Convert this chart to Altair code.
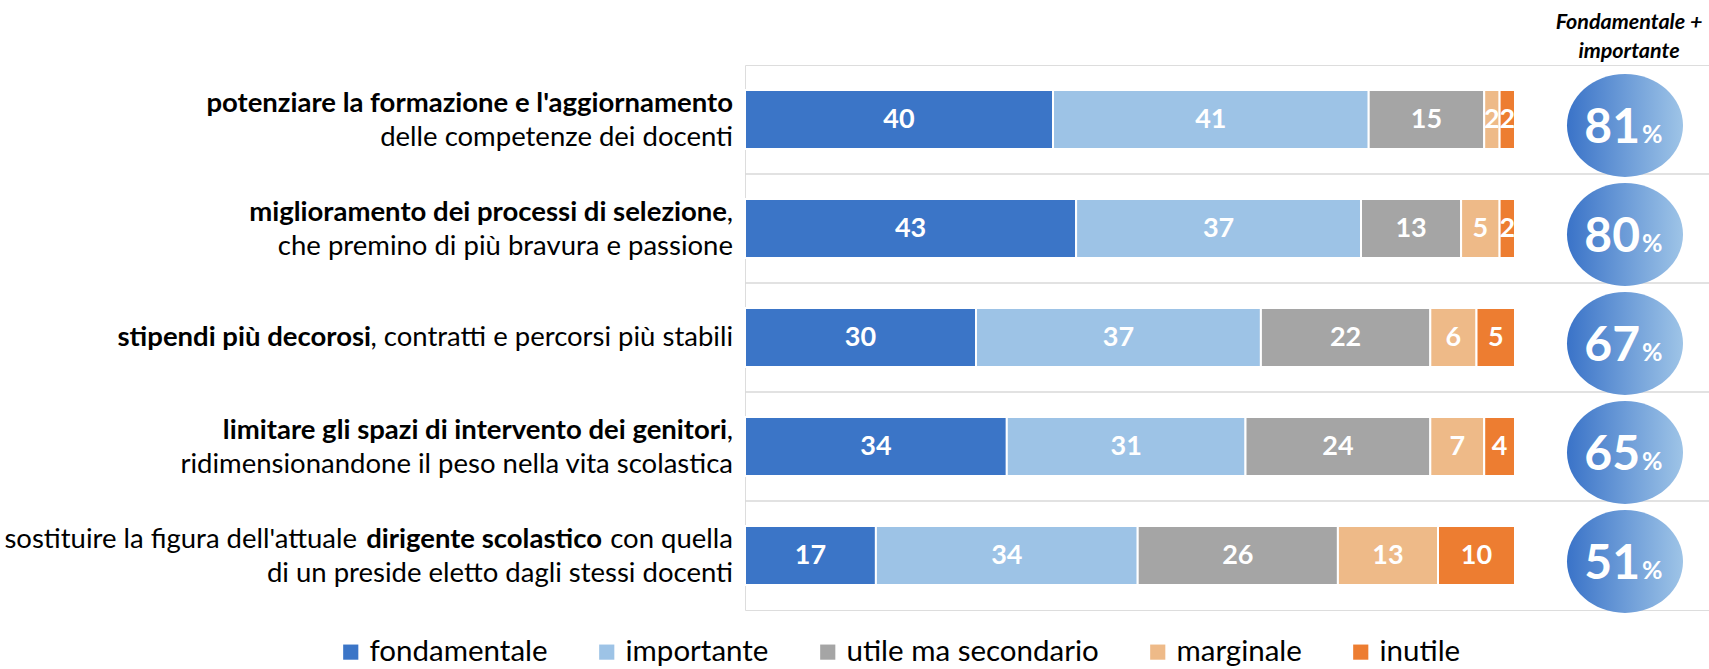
import altair as alt
import pandas as pd

# ---------------- data ----------------
series = ["fondamentale", "importante", "utile ma secondario", "marginale", "inutile"]
colors = ["#3B75C7", "#9DC3E6", "#A5A5A5", "#EEBA88", "#ED7D31"]
items = ["r1", "r2", "r3", "r4", "r5"]
fondamentale = [40, 43, 30, 34, 17]
importante = [41, 37, 37, 31, 34]
utile = [15, 13, 22, 24, 26]
marginale = [2, 5, 6, 7, 13]
inutile = [2, 2, 5, 4, 10]

# label text segments: (item, line, text, bold)
label_segments = [
    ("r1", "top", "potenziare la formazione e l'aggiornamento", True),
    ("r1", "bottom", "delle competenze dei docenti", False),
    ("r2", "top", "miglioramento dei processi di selezione", True),
    ("r2", "top", ",", False),
    ("r2", "bottom", "che premino di più bravura e passione", False),
    ("r3", "mid", "stipendi più decorosi", True),
    ("r3", "mid", ", contratti e percorsi più stabili", False),
    ("r4", "top", "limitare gli spazi di intervento dei genitori", True),
    ("r4", "top", ",", False),
    ("r4", "bottom", "ridimensionandone il peso nella vita scolastica", False),
    ("r5", "top", "sostituire la figura dell'attuale", False),
    ("r5", "top", "dirigente scolastico", True),
    ("r5", "top", "con quella", False),
    ("r5", "bottom", "di un preside eletto dagli stessi docenti", False),
]
title_lines = ["Fondamentale +", "importante"]

# ---------------- layout (pixels) ----------------
FONT = "Lato"
LABEL_SIZE = 27.5
PLOT_W, PLOT_H = 964, 545
BAR_SPAN = 770          # pixels covered by 0..100
LABEL_RIGHT = -12       # right edge of the row labels
# right-edge offsets of the mixed-weight segments (estimated text widths)
seg_right = {
    ("r2", "miglioramento dei processi di selezione"): -6,
    ("r4", "limitare gli spazi di intervento dei genitori"): -6,
    ("r3", "stipendi più decorosi"): -362,
    ("r5", "dirigente scolastico"): -131,
    ("r5", "sostituire la figura dell'attuale"): -376,
}
line_dy = {"top": -16, "bottom": 18, "mid": 0}
CIRCLE_X = 880

# ---------------- tables ----------------
vals = [fondamentale, importante, utile, marginale, inutile]
rows = []
for i, it in enumerate(items):
    start = 0
    for s, name in enumerate(series):
        v = vals[s][i]
        rows.append({"item": it, "series": name, "order": s, "value": v,
                     "start": start, "end": start + v, "mid": start + v / 2})
        start += v
bars = pd.DataFrame(rows)

tot = pd.DataFrame({"item": items,
                    "tot": [a + b for a, b in zip(fondamentale, importante)]})

lab = pd.DataFrame(label_segments, columns=["item", "line", "text", "bold"])
lab["px"] = [LABEL_RIGHT + seg_right.get((r.item, r.text), 0) for r in lab.itertuples()]

seps = pd.DataFrame({"item": items[1:]})

yscale = alt.Scale(domain=items, paddingInner=0, paddingOuter=0)
xscale = alt.Scale(domain=[0, 100], range=[0, BAR_SPAN])

bar_layer = alt.Chart(bars).mark_bar(
    height={"band": 0.54}, stroke="white", strokeWidth=2
).encode(
    y=alt.Y("item:N", scale=yscale,
            axis=alt.Axis(labels=False, ticks=False, title=None, grid=False,
                          domain=True, domainColor="#D9D9D9", domainWidth=1.5)),
    x=alt.X("start:Q", scale=xscale, axis=None),
    x2="end:Q",
    color=alt.Color("series:N",
                    scale=alt.Scale(domain=series, range=colors),
                    legend=alt.Legend(orient="none", legendX=-409, legendY=572,
                                      direction="horizontal", title=None,
                                      symbolType="square", symbolSize=230,
                                      symbolStrokeWidth=0, symbolOpacity=1,
                                      labelFont=FONT, labelFontSize=29.5,
                                      labelColor="#000000", labelLimit=400,
                                      columnPadding=44, labelOffset=4)),
    order=alt.Order("order:Q"),
)

bar_text = alt.Chart(bars).mark_text(
    font=FONT, fontSize=27, fontWeight="bold", color="white", baseline="middle"
).encode(
    y=alt.Y("item:N", scale=yscale, axis=None),
    x=alt.X("mid:Q", scale=xscale, axis=None),
    text="value:Q",
)

sep_layer = alt.Chart(seps).mark_rule(color="#D9D9D9", strokeWidth=1.5).encode(
    y=alt.Y("item:N", scale=yscale, axis=None, bandPosition=0),
    x=alt.value(0),
    x2=alt.value(PLOT_W),
)

ellipse = ("M -1 0 C -1 -0.4893 -0.5523 -0.886 0 -0.886 "
           "C 0.5523 -0.886 1 -0.4893 1 0 "
           "C 1 0.4893 0.5523 0.886 0 0.886 "
           "C -0.5523 0.886 -1 0.4893 -1 0 Z")
grad = alt.LinearGradient(
    gradient="linear", x1=0, x2=1, y1=0, y2=0,
    stops=[alt.GradientStop(color="#3A73C8", offset=0),
           alt.GradientStop(color="#9EC4E7", offset=1)],
)
circles = alt.Chart(tot).mark_point(
    shape=ellipse, size=116 * 116, filled=True, fill=grad, opacity=1,
    strokeWidth=0, yOffset=6
).encode(
    y=alt.Y("item:N", scale=yscale, axis=None),
    x=alt.value(CIRCLE_X),
)
tot_num = alt.Chart(tot).mark_text(
    font=FONT, fontSize=48, fontWeight="bold", color="white",
    align="right", baseline="alphabetic", dx=15, dy=23
).encode(
    y=alt.Y("item:N", scale=yscale, axis=None),
    x=alt.value(CIRCLE_X),
    text="tot:Q",
)
tot_pct = alt.Chart(tot).mark_text(
    font=FONT, fontSize=25, fontWeight="bold", color="white",
    align="left", baseline="alphabetic", dx=17, dy=23
).encode(
    y=alt.Y("item:N", scale=yscale, axis=None),
    x=alt.value(CIRCLE_X),
    text=alt.value("%"),
)

label_layers = []
for line, dy in line_dy.items():
    for bold in (True, False):
        label_layers.append(
            alt.Chart(lab).transform_filter(
                (alt.datum.line == line) & (alt.datum.bold == bold)
            ).mark_text(
                font=FONT, fontSize=LABEL_SIZE, fontWeight="bold" if bold else "normal",
                color="#000000", align="right", baseline="middle", dy=dy
            ).encode(
                y=alt.Y("item:N", scale=yscale, axis=None),
                x=alt.X("px:Q", scale=None),
                text="text:N",
            )
        )

title = alt.Chart(pd.DataFrame({"t": [title_lines]})).mark_text(
    font=FONT, fontSize=21.5, fontWeight="bold", fontStyle="italic",
    color="#000000", align="center", baseline="middle", lineHeight=29
).encode(
    x=alt.value(CIRCLE_X + 4),
    y=alt.value(-42),
    text="t",
)

chart = alt.layer(
    sep_layer, bar_layer, bar_text, circles, tot_num, tot_pct, title, *label_layers
).properties(
    width=PLOT_W, height=PLOT_H, autosize="none",
    padding={"left": 745, "top": 65, "right": 0, "bottom": 59},
).configure_view(stroke=None).configure(background="white")

chart.save("out.html", embed_options={"renderer": "svg", "actions": False})
